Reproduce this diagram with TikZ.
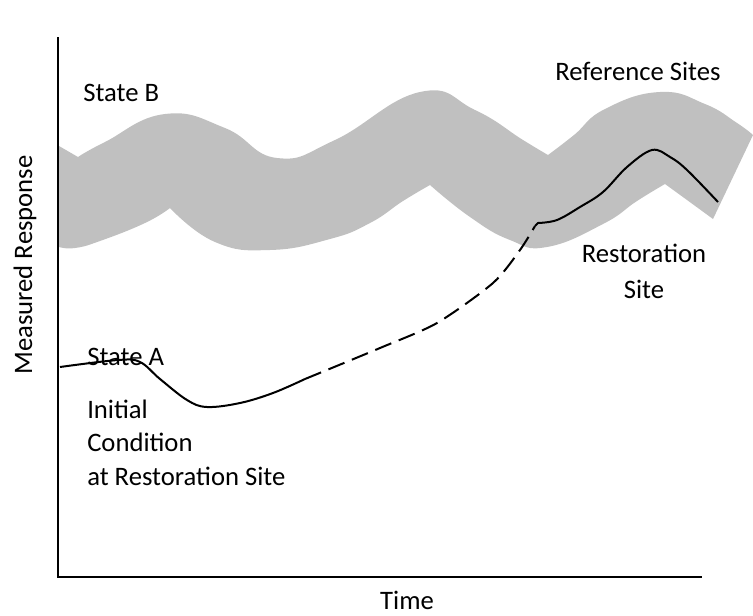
\documentclass[tikz,border=0pt]{standalone}
\usepackage{fontspec}
\setmainfont{Carlito}
\begin{document}
\begin{tikzpicture}[x=0.75pt,y=-0.75pt,
  lbl/.style={inner sep=0pt,font=\fontsize{20}{25.5}\selectfont},
  axisline/.style={line width=2pt,line cap=rect},
  response/.style={line width=1.5pt,line join=round},
  projected/.style={response,dash pattern=on 13pt off 6pt},
  envelope/.style={fill={rgb,255:red,192;green,192;blue,192}}]
\path[use as bounding box] (0,0) rectangle (753,615);

% band of reference-site responses
\fill[envelope] (59,146) -- (78,157)
  -- plot[smooth,tension=0.8] coordinates {(78,157) (105,142) (165,114) (225,128) (277,158) (335,140) (420,92) (475,110) (523,140) (548,155)}
  -- plot[smooth,tension=0.8] coordinates {(548,155) (574,135) (605,109) (660,92) (705,104) (737,123) (753,135)}
  -- (713,219)
  -- plot[smooth,tension=0.5] coordinates {(713,219) (687,200) (665,184)}
  -- plot[smooth,tension=0.8] coordinates {(665,184) (637,201) (603,224) (547,247) (510,240) (470,217) (430,185)}
  -- plot[smooth,tension=0.8] coordinates {(430,185) (403,201) (370,223) (330,239) (270,250) (215,242) (170,208)}
  -- plot[smooth,tension=0.8] coordinates {(170,208) (145,223) (100,241) (75,248) (59,247)}
  -- cycle;

% axes
\coordinate (ytop) at (58,38);
\coordinate (origin) at (58,577);
\coordinate (xend) at (701,577);
\draw[axisline] (ytop) -- (origin) -- (xend);

% restoration-site trajectory
\coordinate (s0) at (60,367);
\coordinate (s1) at (305,379);
\coordinate (s2) at (535,226);
\coordinate (s3) at (718,202);
\draw[response] plot[smooth,tension=0.6] coordinates {(s0) (118,360) (140,362) (160,379) (187,400) (207,407) (240,403) (273,393) (s1)};
\draw[projected] plot[smooth,tension=0.45] coordinates {(s1) (380,348) (437,323) (493,283) (520,250) (s2)};
\draw[response] (s2) -- (538,223)
  -- plot[smooth,tension=0.6] coordinates {(538,223) (557,220) (580,207) (603,192) (627,167) (652,150) (670,157) (687,170) (s3)};

% labels
\node[lbl,anchor=base west] (stateB) at (83,101) {State B};
\node[lbl,anchor=base west] (refsites) at (555,80) {Reference Sites};
\node[lbl,anchor=base west] (stateA) at (87,365) {State A};
\node[lbl,anchor=base west,align=left,font=\fontsize{20}{25}\selectfont] (initial) at (87,485) {Initial\\Condition\\at Restoration Site};
\node[lbl,anchor=base,align=center,font=\fontsize{20}{26.3}\selectfont] (restsite) at (644,298) {Restoration\\Site};
\node[lbl,anchor=base] (xlabel) at (407,609) {Time};
\node[lbl,anchor=base,rotate=90] (ylabel) at (32,265) {Measured Response};
\end{tikzpicture}
\end{document}
